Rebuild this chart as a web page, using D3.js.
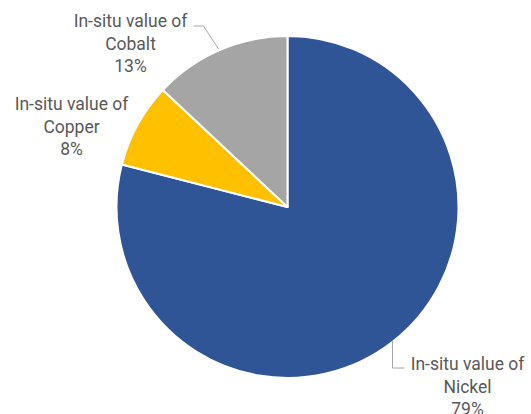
<!DOCTYPE html>
<html>
<head>
<meta charset="utf-8">
<script src="https://cdn.jsdelivr.net/npm/d3@7"></script>
<style>
  html, body { margin: 0; padding: 0; background: #fff; }
  svg { display: block; }
  text { font-family: Roboto, "Noto Sans", sans-serif; fill: #595959; }
</style>
</head>
<body>
<svg id="chart" width="531" height="414"></svg>
<script>
// Share of in-situ value by metal
const categories = ["In-situ value of Nickel", "In-situ value of Copper", "In-situ value of Cobalt"];
const shortNames = ["Nickel", "Copper", "Cobalt"];
const values = [79, 8, 13];
const colors = ["#2F5597", "#FFC000", "#A5A5A5"];

const W = 531, H = 414;
const cx = 287.5, cy = 207, R = 171;

const svg = d3.select("#chart");
const g = svg.append("g").attr("transform", `translate(${cx},${cy})`);

const pie = d3.pie().sort(null).value(d => d).startAngle(0).endAngle(2 * Math.PI);
const arcs = pie(values);
const arc = d3.arc().innerRadius(0).outerRadius(R);

g.selectAll("path.slice")
  .data(arcs)
  .join("path")
  .attr("class", "slice")
  .attr("d", arc)
  .attr("fill", (d, i) => colors[i])
  .attr("stroke", "#fff")
  .attr("stroke-width", 2)
  .attr("stroke-linejoin", "round");

// Label layout: centre of each label block relative to the pie centre,
// plus the leader line route (relative to the pie centre as well).
const labelLayout = [
  { x: 180, y: 163, leader: [[105, 133], [105, 161], [117, 161]] },
  { x: -216, y: -97, leader: null },
  { x: -157, y: -180, leader: [[-69, -158], [-84, -181], [-94, -181]] }
];

const total = d3.sum(values);
const lineH = 22.5;

arcs.forEach((a, i) => {
  const L = labelLayout[i];
  const pct = Math.round(a.value / total * 100) + "%";
  const lines = ["In-situ value of", shortNames[i], pct];
  const t = g.append("text")
    .attr("text-anchor", "middle")
    .attr("font-size", 17.5);
  lines.forEach((s, k) => {
    t.append("tspan")
      .attr("x", L.x)
      .attr("y", L.y + k * lineH)
      .text(s);
  });
  if (L.leader) {
    g.append("path")
      .attr("d", d3.line()(L.leader))
      .attr("fill", "none")
      .attr("stroke", "#A6A6A6")
      .attr("stroke-width", 1);
  }
});
</script>
</body>
</html>
